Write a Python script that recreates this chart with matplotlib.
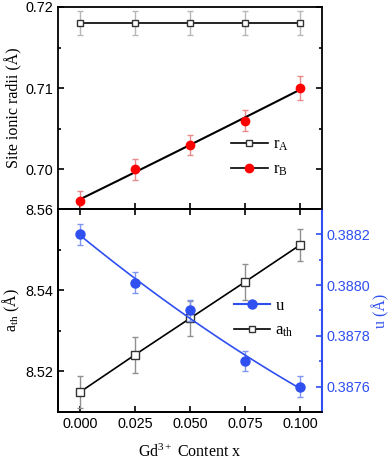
import numpy as np
import matplotlib.pyplot as plt
from matplotlib.ticker import MultipleLocator

# Gd3+ content
x = [0.000, 0.025, 0.050, 0.075, 0.100]

# site ionic radii (top panel)
r_a = [0.718, 0.718, 0.718, 0.718, 0.718]
r_a_err = [0.0015, 0.0015, 0.0015, 0.0015, 0.0015]
r_b = [0.6961, 0.7000, 0.7030, 0.7060, 0.7100]
r_b_err = [0.0012, 0.0013, 0.0012, 0.0013, 0.0015]

# lattice parameter and oxygen parameter (bottom panel)
a_th = [8.5148, 8.5240, 8.5330, 8.5420, 8.5511]
a_th_err = [0.0040, 0.0044, 0.0044, 0.0044, 0.0040]
u = [0.38820, 0.38801, 0.38790, 0.38770, 0.38760]
u_err = [0.00004, 0.00004, 0.00004, 0.00004, 0.00004]

serif = "Liberation Serif"
sans = "Liberation Sans"
blue = "#2f4ff0"

plt.rcParams["font.family"] = sans
plt.rcParams["font.size"] = 10.4
plt.rcParams["mathtext.fontset"] = "custom"
plt.rcParams["mathtext.rm"] = serif
plt.rcParams["mathtext.it"] = serif + ":italic"

fig = plt.figure(figsize=(3.91, 4.66), dpi=100)
ax1 = fig.add_axes([0.148, 0.5515, 0.6755, 0.4335])
ax2 = fig.add_axes([0.148, 0.1159, 0.6755, 0.4356])

# --- top panel ---
ax1.errorbar(x, r_a, yerr=r_a_err, fmt="none", ecolor="#b8b8b8", elinewidth=1, capsize=2)
ax1.errorbar(x, r_b, yerr=r_b_err, fmt="none", ecolor="#e88a8a", elinewidth=1, capsize=2)
ax1.plot(x, r_a, "-s", color="black", lw=1.2, ms=5, mfc="white", mec="#333333",
         label=r"r$_\mathrm{A}$")
xs = np.linspace(0, 0.1, 100)
pb = np.polyfit(x, r_b, 2)
ax1.plot(xs, np.polyval(pb, xs), "-", color="black", lw=1.5)
ax1.plot(x, r_b, "o", color="red", ms=6, zorder=5)
ax1.plot([], [], "-o", color="black", lw=1.2, mfc="red", mec="red", ms=6, label=r"r$_\mathrm{B}$")

ax1.set_xlim(-0.01, 0.11)
ax1.set_ylim(0.6951, 0.72)
ax1.set_yticks([0.70, 0.71, 0.72])
ax1.yaxis.set_minor_locator(MultipleLocator(0.005))
ax1.set_xticks([0, 0.025, 0.05, 0.075, 0.1])
ax1.tick_params(axis="x", labelbottom=False)
ax1.tick_params(which="both", direction="in", right=True, width=1.2)
ax1.tick_params(which="major", length=4)
ax1.tick_params(which="minor", length=2.5)
ax1.set_ylabel("Site ionic radii (Å)", family=serif, fontsize=11.5, labelpad=2)
ax1.legend(loc="lower right", bbox_to_anchor=(0.93, 0.08), frameon=False,
           prop={"family": serif, "size": 12}, handlelength=2.2,
           labelspacing=0.5, handletextpad=0.3)

# --- bottom panel ---
ax2.errorbar(x, a_th, yerr=a_th_err, fmt="none", ecolor="#909090", elinewidth=1, capsize=2)
ax2.plot(x, a_th, "-s", color="black", lw=1.2, ms=6, mfc="white", mec="#333333", zorder=5)
ax2.set_xlim(-0.01, 0.11)
ax2.set_ylim(8.5099, 8.56)
ax2.set_yticks([8.52, 8.54, 8.56])
ax2.yaxis.set_minor_locator(MultipleLocator(0.01))
ax2.set_xticks([0, 0.025, 0.05, 0.075, 0.1])
ax2.set_xticklabels(["0.000", "0.025", "0.050", "0.075", "0.100"])
ax2.tick_params(which="both", direction="in", top=True, width=1.2)
ax2.tick_params(which="major", length=4)
ax2.tick_params(which="minor", length=2.5)
ax2.set_ylabel(r"a$_\mathrm{th}$ (Å)", family=serif, fontsize=11.5, labelpad=2)
ax2.set_xlabel(r"Gd$^\mathrm{3+}$ Content x", family=serif, fontsize=11.5, labelpad=9)

ax3 = ax2.twinx()
ax3.errorbar(x, u, yerr=u_err, fmt="none", ecolor="#7f95f0", elinewidth=1, capsize=2)
pu = np.polyfit(x, u, 2)
ax3.plot(xs, np.polyval(pu, xs), "-", color=blue, lw=1.2)
ax3.plot(x, u, "o", color=blue, ms=6.5, zorder=5)
ax3.set_ylim(0.38750, 0.38830)
ax3.set_yticks([0.3876, 0.3878, 0.3880, 0.3882])
ax3.yaxis.set_minor_locator(MultipleLocator(0.0001))
ax3.tick_params(which="both", direction="in", colors=blue, width=1.2)
ax3.tick_params(which="major", length=4)
ax3.tick_params(which="minor", length=2.5)
ax3.spines["right"].set_color(blue)
ax3.set_ylabel("u (Å)", family=serif, fontsize=11.5, color=blue, labelpad=1)

h_u, = ax3.plot([], [], "-o", color=blue, ms=6.5)
h_a, = ax3.plot([], [], "-s", color="black", lw=1.2, ms=5, mfc="white", mec="#333333")
ax3.legend([h_u, h_a], ["u", r"a$_\mathrm{th}$"], loc="center right",
           bbox_to_anchor=(0.95, 0.46), frameon=False,
           prop={"family": serif, "size": 12}, handlelength=2.2,
           labelspacing=0.5, handletextpad=0.3)

for ax in (ax1, ax2, ax3):
    for s in ax.spines.values():
        s.set_linewidth(1.3)
ax3.spines["right"].set_linewidth(1.5)

fig.savefig("out.png", dpi=100)
